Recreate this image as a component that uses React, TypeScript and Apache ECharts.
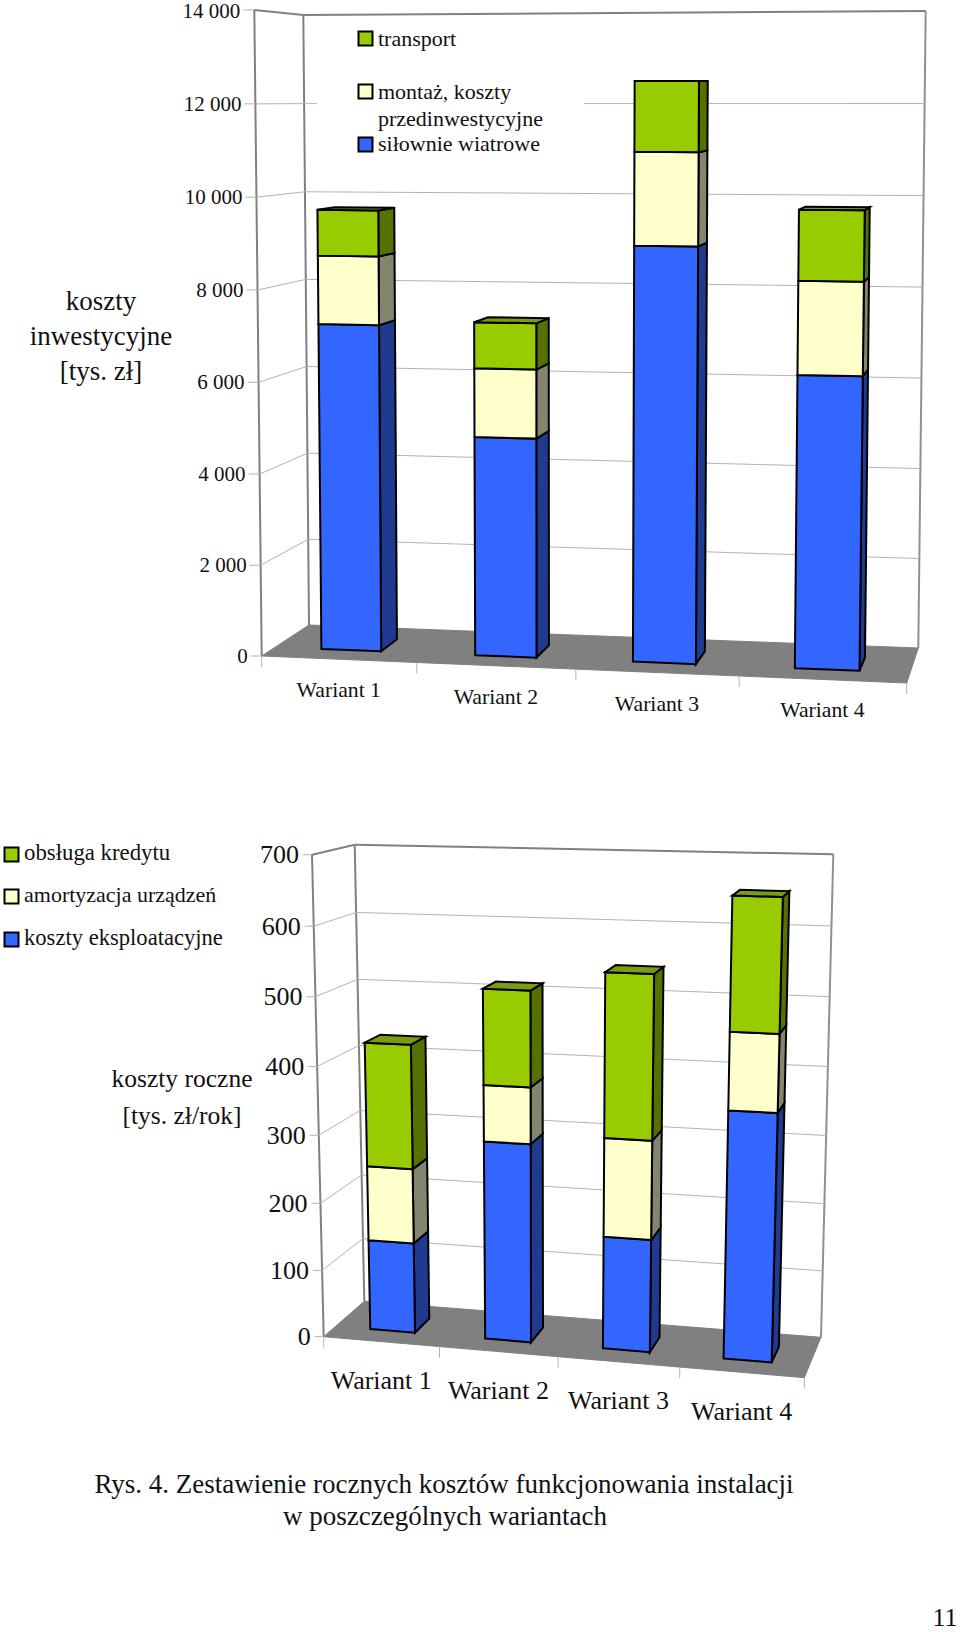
import React, { useEffect, useRef } from "react";
import * as echarts from "echarts";

const FONT = '"Liberation Serif", "Times New Roman", serif';

const categories = ["Wariant 1", "Wariant 2", "Wariant 3", "Wariant 4"];

// upper chart: capital costs
const topTicks = [0, 2000, 4000, 6000, 8000, 10000, 12000, 14000];
const topTickLabels = ["0", "2 000", "4 000", "6 000", "8 000", "10 000", "12 000", "14 000"];
const topPlants = [7200, 4800, 9000, 6300];
const topMounting = [1500, 1500, 2000, 2000];
const topTransport = [1000, 1000, 1500, 1500];

// lower chart: yearly costs
const lowTicks = [0, 100, 200, 300, 400, 500, 600, 700];
const lowTickLabels = ["0", "100", "200", "300", "400", "500", "600", "700"];
const lowOperating = [135, 293, 165, 357];
const lowDepreciation = [111, 82, 143, 110];
const lowCredit = [182, 138, 235, 187];

const COLORS = [
  { front: "#3366ff", side: "#1f3a8f", top: "#2a52cc" },
  { front: "#ffffcc", side: "#85856f", top: "#ccccaa" },
  { front: "#99cc00", side: "#557200", top: "#7a9c10" },
];

type Pt = [number, number];
interface View {
  corners: { fb0: Pt; fb1: Pt; bb0: Pt; bb1: Pt; ft0: Pt; ft1: Pt; bt0: Pt; bt1: Pt };
  warpU: number; warpV: number; halfBar: number; w0: number; w1: number;
  labelFont: number; tickLen: number; labelGap: number; catGap: number; catTick: number;
}

const topView: View = {
  corners: {
    fb0: [261.7, 656], fb1: [906.7, 683], bb0: [309, 625], bb1: [918.3, 648],
    ft0: [254.3, 10], ft1: [916, 8], bt0: [303.3, 15], bt1: [925.7, 11],
  },
  warpU: 1.053, warpV: 1.02, halfBar: 0.049, w0: 0.29, w1: 0.67,
  labelFont: 21, tickLen: 11, labelGap: 14, catGap: 31, catTick: 11,
};
const lowView: View = {
  corners: {
    fb0: [323.7, 1336.7], fb1: [804.3, 1377.7], bb0: [364.3, 1301.3], bb1: [821, 1337.3],
    ft0: [312, 854.7], ft1: [819, 867.7], bt0: [354.7, 844.7], bt1: [833.3, 854.3],
  },
  warpU: 1.05, warpV: 1.045, halfBar: 0.049, w0: 0.3, w1: 0.69,
  labelFont: 26, tickLen: 9, labelGap: 13, catGap: 39, catTick: 11,
};

const warp = (x: number, s: number) => x / (x + (1 - x) * s);
const mix = (a: Pt, b: Pt, k: number): Pt => [a[0] + (b[0] - a[0]) * k, a[1] + (b[1] - a[1]) * k];

function project(v: View, u: number, w: number, t: number): Pt {
  const c = v.corners;
  const uu = warp(u, v.warpU);
  const tt = warp(t, v.warpV);
  const bottom = mix(mix(c.fb0, c.fb1, uu), mix(c.bb0, c.bb1, uu), w);
  const top = mix(mix(c.ft0, c.ft1, uu), mix(c.bt0, c.bt1, uu), w);
  return mix(bottom, top, tt);
}

const poly = (points: Pt[], fill: string, stroke: string, lineWidth: number) => ({
  type: "polygon",
  shape: { points },
  style: { fill, stroke, lineWidth, lineJoin: "miter" },
});
const line = (a: Pt, b: Pt, stroke: string, lineWidth: number) => ({
  type: "line",
  shape: { x1: a[0], y1: a[1], x2: b[0], y2: b[1] },
  style: { stroke, lineWidth },
});
const text = (x: number, y: number, s: string, size: number, align = "center") => ({
  type: "text",
  style: {
    x, y, text: s, fill: "#111", font: `${size}px ${FONT}`,
    align, verticalAlign: "middle", textAlign: align, textVerticalAlign: "middle",
  },
});

// normalised position of a data point inside its (invisible) cartesian grid
function norm(params: any, api: any, cat: number, val: number) {
  const cs = params.coordSys;
  const p = api.coord([cat, val]);
  return { u: (p[0] - cs.x) / cs.width, t: (cs.y + cs.height - p[1]) / cs.height };
}

function barSeries(view: View, idx: number, starts: number[], ends: number[], color: any, drawTop: boolean) {
  return {
    type: "custom",
    xAxisIndex: idx,
    yAxisIndex: idx,
    clip: false,
    silent: true,
    encode: { x: 0, y: 2 },
    data: starts.map((s, i) => [i, s, ends[i]]),
    renderItem(params: any, api: any) {
      const a = norm(params, api, api.value(0), api.value(1));
      const b = norm(params, api, api.value(0), api.value(2));
      const u0 = a.u - view.halfBar, u1 = a.u + view.halfBar;
      const { w0, w1 } = view;
      const P = (u: number, w: number, t: number) => project(view, u, w, t);
      const children: any[] = [
        poly([P(u1, w0, a.t), P(u1, w1, a.t), P(u1, w1, b.t), P(u1, w0, b.t)], color.side, "#000", 2),
        poly([P(u0, w0, a.t), P(u1, w0, a.t), P(u1, w0, b.t), P(u0, w0, b.t)], color.front, "#000", 2),
      ];
      if (drawTop) {
        children.push(poly([P(u0, w0, b.t), P(u1, w0, b.t), P(u1, w1, b.t), P(u0, w1, b.t)], color.top, "#000", 2));
      }
      return { type: "group", children };
    },
  };
}

function frameSeries(view: View, idx: number) {
  return {
    type: "custom",
    xAxisIndex: idx,
    yAxisIndex: idx,
    clip: false,
    silent: true,
    encode: { x: 0, y: 1 },
    data: [[0, 0]],
    renderItem() {
      const P = (u: number, w: number, t: number) => project(view, u, w, t);
      return {
        type: "group",
        children: [
          poly([P(0, 0, 0), P(1, 0, 0), P(1, 1, 0), P(0, 1, 0)], "#808080", "#808080", 1),
          line(P(0, 0, 0), P(0, 0, 1), "#808080", 2),
          line(P(0, 1, 0), P(0, 1, 1), "#808080", 2),
          line(P(1, 1, 0), P(1, 1, 1), "#909090", 2),
          line(P(0, 0, 1), P(0, 1, 1), "#808080", 2),
          line(P(0, 1, 1), P(1, 1, 1), "#808080", 2),
        ],
      };
    },
  };
}

function tickSeries(view: View, idx: number, ticks: number[], labels: string[]) {
  return {
    type: "custom",
    xAxisIndex: idx,
    yAxisIndex: idx,
    clip: false,
    silent: true,
    encode: { x: 0, y: 1 },
    data: ticks.map((t, i) => [0, t, i]),
    renderItem(params: any, api: any) {
      const { t } = norm(params, api, 0, api.value(1));
      const P = (u: number, w: number) => project(view, u, w, t);
      const f = P(0, 0);
      const children: any[] = [
        line([f[0] - view.tickLen, f[1]], f, "#b3b3b3", 1),
        text(f[0] - view.labelGap, Math.max(f[1], view.labelFont / 2 + 0.5), labels[api.value(2)], view.labelFont, "right"),
      ];
      if (t > 0 && t < 1) {
        children.push(line(f, P(0, 1), "#b3b3b3", 1), line(P(0, 1), P(1, 1), "#b3b3b3", 1));
      }
      return { type: "group", children };
    },
  };
}

function categorySeries(view: View, idx: number, catFont: number) {
  return {
    type: "custom",
    xAxisIndex: idx,
    yAxisIndex: idx,
    clip: false,
    silent: true,
    encode: { x: 0, y: 1 },
    data: categories.map((_, i) => [i, 0]),
    renderItem(params: any, api: any) {
      const i = api.value(0);
      const { u } = norm(params, api, i, 0);
      const half = 1 / (2 * categories.length);
      const m = project(view, u, 0, 0);
      const a = project(view, u - half, 0, 0);
      const b = project(view, u + half, 0, 0);
      const children: any[] = [
        line(b, [b[0], b[1] + view.catTick], "#b3b3b3", 1),
        text(m[0], m[1] + view.catGap, categories[i], catFont),
      ];
      if (i === 0) children.push(line(a, [a[0], a[1] + view.catTick], "#b3b3b3", 1));
      return { type: "group", children };
    },
  };
}

function cumulative(...layers: number[][]) {
  let base = layers[0].map(() => 0);
  return layers.map((l) => {
    const starts = base;
    const ends = l.map((v, i) => starts[i] + v);
    base = ends;
    return { starts, ends };
  });
}

const swatch = (x: number, y: number, fill: string) => ({
  type: "rect", z: 101, shape: { x, y, width: 14, height: 14 },
  style: { fill, stroke: "#000", lineWidth: 2 },
});
const label = (x: number, y: number, s: string, size: number, align = "left") => ({
  ...text(x, y, s, size, align), z: 101,
});

export default function App() {
  const ref = useRef<HTMLDivElement>(null);
  useEffect(() => {
    const chart = echarts.init(ref.current!, undefined, { renderer: "svg" });
    const topStack = cumulative(topPlants, topMounting, topTransport);
    const lowStack = cumulative(lowOperating, lowDepreciation, lowCredit);
    chart.setOption({
      animation: false,
      backgroundColor: "#fff",
      grid: [
        { left: 262, top: 10, width: 645, height: 646 },
        { left: 324, top: 855, width: 480, height: 482 },
      ],
      xAxis: [
        { type: "category", gridIndex: 0, data: categories, show: false },
        { type: "category", gridIndex: 1, data: categories, show: false },
      ],
      yAxis: [
        { type: "value", gridIndex: 0, min: 0, max: 14000, interval: 2000, show: false },
        { type: "value", gridIndex: 1, min: 0, max: 700, interval: 100, show: false },
      ],
      series: [
        frameSeries(topView, 0),
        tickSeries(topView, 0, topTicks, topTickLabels),
        categorySeries(topView, 0, 21.7),
        ...topStack.map((s, i) => barSeries(topView, 0, s.starts, s.ends, COLORS[i], i === 2)),
        frameSeries(lowView, 1),
        tickSeries(lowView, 1, lowTicks, lowTickLabels),
        categorySeries(lowView, 1, 26),
        ...lowStack.map((s, i) => barSeries(lowView, 1, s.starts, s.ends, COLORS[i], i === 2)),
      ],
      graphic: {
        elements: [
          { type: "rect", z: 100, shape: { x: 317, y: 20, width: 267, height: 150 }, style: { fill: "#fff" } },
          swatch(358.5, 31.5, COLORS[2].front),
          swatch(358.5, 84.5, COLORS[1].front),
          swatch(358.5, 137.5, COLORS[0].front),
          label(378, 38, "transport", 22),
          label(378, 91, "montaż, koszty", 22),
          label(378, 118, "przedinwestycyjne", 22),
          label(378, 143, "siłownie wiatrowe", 22),
          swatch(4.5, 847.5, COLORS[2].front),
          swatch(4.5, 889.5, COLORS[1].front),
          swatch(4.5, 932.5, COLORS[0].front),
          label(24, 852, "obsługa kredytu", 22.8),
          label(24, 894, "amortyzacja urządzeń", 22),
          label(24, 937, "koszty eksploatacyjne", 22.6),
          label(101, 301, "koszty", 27, "center"),
          label(101, 336, "inwestycyjne", 27, "center"),
          label(101, 371, "[tys. zł]", 27, "center"),
          label(182, 1078, "koszty roczne", 25.5, "center"),
          label(182, 1115, "[tys. zł/rok]", 25.5, "center"),
          label(444, 1484, "Rys. 4. Zestawienie rocznych kosztów funkcjonowania instalacji", 27, "center"),
          label(445, 1516, "w poszczególnych wariantach", 27, "center"),
          label(945, 1617, "11", 26, "center"),
        ],
      },
    });
    return () => chart.dispose();
  }, []);
  return <div ref={ref} style={{ position: "absolute", left: 0, top: 0, width: 960, height: 1632 }} />;
}
